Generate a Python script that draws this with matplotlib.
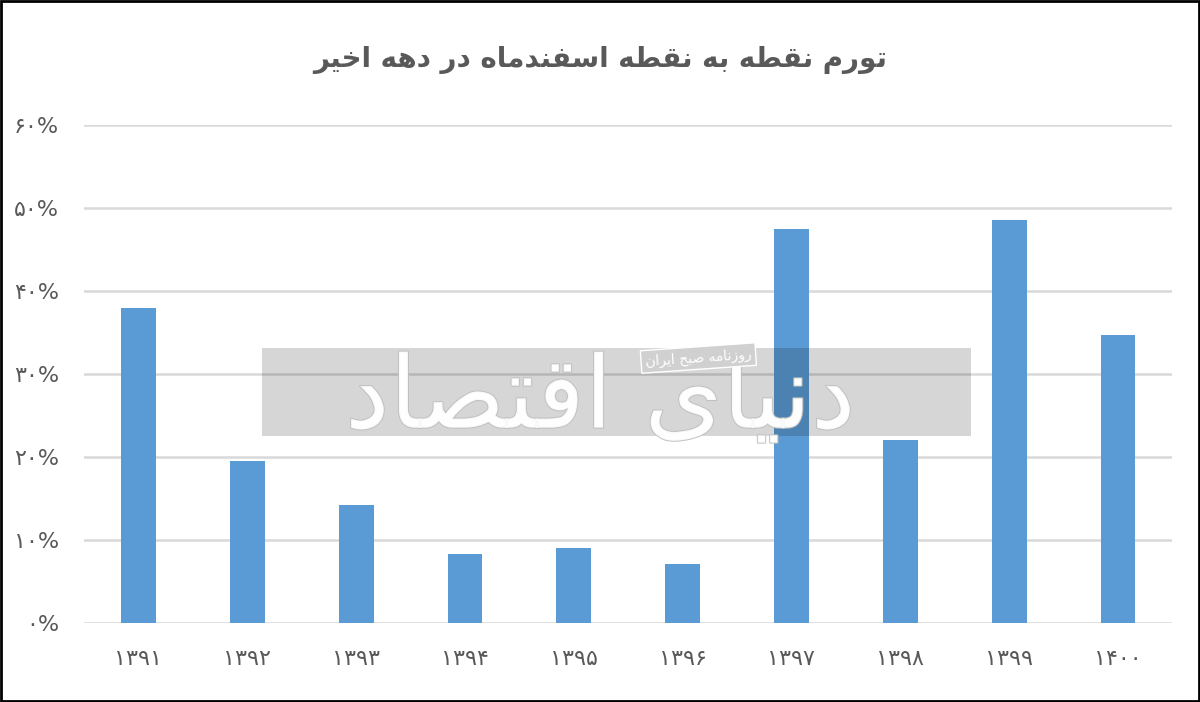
import matplotlib
matplotlib.use("Agg")
import matplotlib.pyplot as plt
from matplotlib.patches import Rectangle
import matplotlib.patheffects as pe

# data
years = ["۱۳۹۱", "۱۳۹۲", "۱۳۹۳", "۱۳۹۴", "۱۳۹۵", "۱۳۹۶", "۱۳۹۷", "۱۳۹۸", "۱۳۹۹", "۱۴۰۰"]
inflation = [37.9, 19.5, 14.2, 8.3, 9.0, 7.1, 47.4, 22.0, 48.6, 34.7]
y_ticks = [0, 10, 20, 30, 40, 50, 60]
y_tick_labels = ["۰%", "۱۰%", "۲۰%", "۳۰%", "۴۰%", "۵۰%", "۶۰%"]
title = "تورم نقطه به نقطه اسفندماه در دهه اخیر"
watermark = "دنیای اقتصاد"
watermark_small = "روزنامه صبح ایران"

# matplotlib does no arabic shaping, so pick presentation forms by hand
# (isolated, final, initial, medial); two entries = joins on the right only
FORMS = {
    "ا": ("\uFE8D", "\uFE8E"),
    "ب": ("\uFE8F", "\uFE90", "\uFE91", "\uFE92"),
    "ت": ("\uFE95", "\uFE96", "\uFE97", "\uFE98"),
    "ح": ("\uFEA1", "\uFEA2", "\uFEA3", "\uFEA4"),
    "خ": ("\uFEA5", "\uFEA6", "\uFEA7", "\uFEA8"),
    "د": ("\uFEA9", "\uFEAA"),
    "ر": ("\uFEAD", "\uFEAE"),
    "ز": ("\uFEAF", "\uFEB0"),
    "س": ("\uFEB1", "\uFEB2", "\uFEB3", "\uFEB4"),
    "ص": ("\uFEB9", "\uFEBA", "\uFEBB", "\uFEBC"),
    "ط": ("\uFEC1", "\uFEC2", "\uFEC3", "\uFEC4"),
    "ف": ("\uFED1", "\uFED2", "\uFED3", "\uFED4"),
    "ق": ("\uFED5", "\uFED6", "\uFED7", "\uFED8"),
    "م": ("\uFEE1", "\uFEE2", "\uFEE3", "\uFEE4"),
    "ن": ("\uFEE5", "\uFEE6", "\uFEE7", "\uFEE8"),
    "ه": ("\uFEE9", "\uFEEA", "\uFEEB", "\uFEEC"),
    "و": ("\uFEED", "\uFEEE"),
    "ی": ("\uFEEF", "\uFEF0", "\uFEF3", "\uFEF4"),
}


def shape(text):
    out = []
    for i, c in enumerate(text):
        if c not in FORMS:
            out.append(c)
            continue
        prev = text[i - 1] if i > 0 else ""
        nxt = text[i + 1] if i + 1 < len(text) else ""
        join_prev = prev in FORMS and len(FORMS[prev]) == 4
        join_next = nxt in FORMS and len(FORMS[c]) == 4
        f = FORMS[c]
        if join_prev and join_next:
            out.append(f[3])
        elif join_prev:
            out.append(f[1])
        elif join_next:
            out.append(f[2])
        else:
            out.append(f[0])
    return "".join(out)[::-1]


text_color = "#595959"
bar_color = "#5b9bd5"
grid_color = "#d9d9d9"

fig = plt.figure(figsize=(12, 7.02), dpi=100)
ax = fig.add_axes([0.07, 0.113, 0.907, 0.709])

x = list(range(len(years)))
ax.bar(x, inflation, width=0.32, color=bar_color, zorder=3)

ax.set_xlim(-0.5, len(years) - 0.5)
ax.set_ylim(0, 60)
ax.set_yticks(y_ticks)
ax.set_yticklabels(y_tick_labels)
ax.set_xticks(x)
ax.set_xticklabels(years)
ax.tick_params(axis="both", length=0, labelsize=16, labelcolor=text_color)
ax.tick_params(axis="x", pad=19)
ax.tick_params(axis="y", pad=18)
ax.grid(axis="y", color=grid_color, linewidth=1.8, zorder=0)
for s in ax.spines.values():
    s.set_visible(False)

fig.text(0.5, 0.915, shape(title), ha="center", va="center",
         fontsize=20, fontweight="bold", color=text_color)

# watermark box from the source image
fig.add_artist(Rectangle((262 / 1200, 1 - 436 / 702), (971 - 262) / 1200, 88 / 702,
                         transform=fig.transFigure, facecolor="black", alpha=0.16,
                         edgecolor="none", zorder=5))
fig.text(0.5, 0.43, shape(watermark), ha="center", va="center", fontsize=72,
         color="white", alpha=0.9, zorder=6,
         path_effects=[pe.withStroke(linewidth=1.5, foreground="#bfbfbf")])
fig.text(0.582, 0.49, shape(watermark_small), ha="center", va="center", fontsize=10,
         color="white", rotation=4, zorder=6,
         bbox=dict(facecolor="#d0d0d0", edgecolor="white", linewidth=1, pad=3))

# frame around the whole image
fig.add_artist(Rectangle((0.001, 0.001), 0.998, 0.997, transform=fig.transFigure,
                         fill=False, edgecolor="black", linewidth=2, zorder=10))

fig.savefig("out.png", dpi=100)
